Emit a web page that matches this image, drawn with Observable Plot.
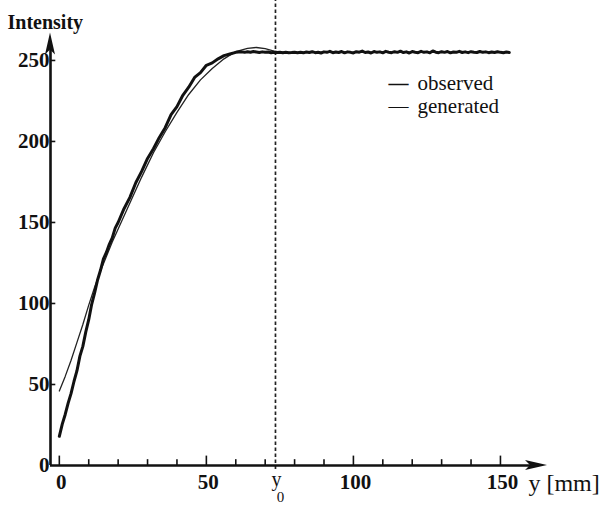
<!DOCTYPE html>
<html>
<head>
<meta charset="utf-8">
<script src="https://cdn.jsdelivr.net/npm/d3@7"></script>
<script src="https://cdn.jsdelivr.net/npm/@observablehq/plot@0.6"></script>
<style>
  html, body { margin: 0; padding: 0; background: #fff; }
  #chart { width: 604px; height: 506px; }
  svg text { font-family: "Liberation Serif", "Times New Roman", serif; }
</style>
</head>
<body>
<div id="chart"></div>
<script>
// ---- Data ----
// rising part of the observed profile
const obsRiseX = [0,1,2,3,4,5,6,7,8,9,10,11,12,13,14,15,16,17,18,19,20,
  22,24,26,28,30,32,34,36,38,40,42,44,46,48,50,52,54,56,58,60];
const obsRiseY = [18,25.5,31.5,38.5,44.5,52,58.5,67.5,73.5,82.5,90,99.5,106.5,114.5,120.5,127.5,131.5,136.5,140.5,146.5,150,
  158.5,165.5,174.5,181.5,189.5,195.5,202.5,208.5,216.5,221.5,228.5,233.5,239.5,242.5,247,248.5,251,253,254,255];
// plateau of the observed profile, one reading per mm from 62 to 153
const obsPlateauStart = 62;
const obsPlateauY = [
  255.3,255.0,255.4,255.1,255.5,255.2,254.9,255.3,255.0,255.2,
  254.8,255.1,254.9,255.0,254.7,255.0,254.8,254.9,255.1,254.8,
  255.0,254.7,255.2,254.9,255.4,254.8,255.1,254.6,255.3,255.0,
  255.6,254.8,255.2,254.9,255.5,254.7,255.3,255.0,254.6,255.4,
  255.1,255.8,254.9,255.2,254.6,255.5,255.0,255.3,254.7,255.6,
  255.1,254.8,255.4,255.0,255.7,254.9,255.3,254.6,255.5,255.1,
  254.8,255.6,255.0,255.3,254.7,255.9,255.1,254.8,255.4,255.0,
  255.5,254.7,255.2,255.0,255.6,254.9,255.3,254.8,255.4,255.1,
  254.9,255.5,255.0,255.3,254.8,255.2,254.9,255.4,255.0,254.8,
  255.2,254.9];

const genX = [0,2,4,6,8,10,12,14,16,18,20,24,28,32,36,40,44,48,52,56,60,64,67,70,73,76,80,100,120,140,153];
const genY = [46,55,65,76,87,99,110,120,129,138,146,162,178,193,206,218,229,238,245,251,255.5,257.5,258,257.3,255.8,255,255,255,255,255,255];

const y0 = 73.5;                       // dashed marker position (mm)
const xMajorTicks = [0, 50, 100, 150];
const xMinorTicks = [10, 20, 30, 40, 60, 70, 80, 90, 110, 120, 130, 140];
const yTicks = [0, 50, 100, 150, 200, 250];
const xDomain = [-3, 166];
const yDomain = [0, 287];
const yAxisTop = 267;

const observed = obsRiseX.map((x, i) => ({x, y: obsRiseY[i]}))
  .concat(obsPlateauY.map((y, i) => ({x: obsPlateauStart + i, y})));
const generated = genX.map((x, i) => ({x, y: genY[i]}));

const font = {fontFamily: "Liberation Serif", fill: "#111"};

const plot = Plot.plot({
  width: 604,
  height: 506,
  marginTop: 0, marginBottom: 0, marginLeft: 0, marginRight: 0,
  style: {background: "#fff", color: "#111", fontFamily: "Liberation Serif"},
  x: {domain: xDomain, range: [50, 547], axis: null},
  y: {domain: yDomain, range: [465, 0], axis: null},
  marks: [
    // dashed y0 line
    Plot.ruleX([y0], {y1: -2.5, y2: yDomain[1], stroke: "#222", strokeWidth: 1.7, strokeDasharray: "3.5,2.5"}),
    // axes lines
    Plot.ruleY([0], {x1: xDomain[0], x2: xDomain[1] - 4, stroke: "#111", strokeWidth: 2.6}),
    Plot.ruleX([xDomain[0]], {y1: 0, y2: yAxisTop - 6, stroke: "#111", strokeWidth: 2.6}),
    // x ticks (inward)
    Plot.ruleX(xMinorTicks, {y1: 0, y2: 3.6, stroke: "#111", strokeWidth: 1.6}),
    Plot.ruleX(xMajorTicks, {y1: 0, y2: 5.8, stroke: "#111", strokeWidth: 1.6}),
    // y ticks
    Plot.ruleY(yTicks.filter(d => d > 0), {x1: xDomain[0], x2: xDomain[0] + 1.8, stroke: "#111", strokeWidth: 1.6}),
    // curves
    Plot.line(generated, {x: "x", y: "y", stroke: "#222", strokeWidth: 1.3}),
    Plot.line(observed, {x: "x", y: "y", stroke: "#111", strokeWidth: 3, strokeLinejoin: "round"}),
    // tick labels
    Plot.text(xMajorTicks, {x: d => d, y: 0, dy: 17, dx: 2, lineAnchor: "middle", text: d => String(d),
      fontSize: 21, fontWeight: "bold", ...font}),
    Plot.text(yTicks, {x: xDomain[0], y: d => d, dx: -1, textAnchor: "end", lineAnchor: "middle", text: d => String(d),
      fontSize: 21, fontWeight: "bold", ...font}),
    // axis titles
    Plot.text(["Intensity"], {frameAnchor: "top-left", dx: 7, dy: 22, textAnchor: "start", lineAnchor: "middle",
      fontSize: 20, fontWeight: "bold", ...font}),
    Plot.text(["y [mm]"], {x: xMajorTicks[3], y: 0, dx: 28, dy: 18, textAnchor: "start", lineAnchor: "middle",
      fontSize: 24, ...font}),
    Plot.text(["y"], {x: y0, y: 0, dx: 1, dy: 14, lineAnchor: "middle", fontSize: 20, ...font}),
    Plot.text(["0"], {x: y0, y: 0, dx: 5, dy: 32, lineAnchor: "middle", fontSize: 15, ...font}),
    // legend
    Plot.text(["—"], {frameAnchor: "top-left", dx: 388, dy: 83, textAnchor: "start", lineAnchor: "middle", fontSize: 20, fontWeight: "bold", ...font}),
    Plot.text(["observed"], {frameAnchor: "top-left", dx: 417, dy: 83, textAnchor: "start", lineAnchor: "middle", fontSize: 21, ...font}),
    Plot.text(["—"], {frameAnchor: "top-left", dx: 388, dy: 106, textAnchor: "start", lineAnchor: "middle", fontSize: 20, ...font}),
    Plot.text(["generated"], {frameAnchor: "top-left", dx: 417, dy: 106, textAnchor: "start", lineAnchor: "middle", fontSize: 21, ...font})
  ]
});

document.getElementById("chart").appendChild(plot);

// filled arrowheads at the axis ends
const sx = plot.scale("x"), sy = plot.scale("y");
const svg = d3.select(plot);
const ax = sx.apply(xDomain[1]), ay = sy.apply(0);
svg.append("path")
  .attr("d", `M${ax},${ay} L${ax - 22},${ay - 5} L${ax - 17},${ay} L${ax - 22},${ay + 5} Z`)
  .attr("fill", "#111");
const bx = sx.apply(xDomain[0]), by = sy.apply(yAxisTop);
svg.append("path")
  .attr("d", `M${bx},${by} L${bx - 5},${by + 22} L${bx},${by + 17} L${bx + 5},${by + 22} Z`)
  .attr("fill", "#111");
</script>
</body>
</html>
